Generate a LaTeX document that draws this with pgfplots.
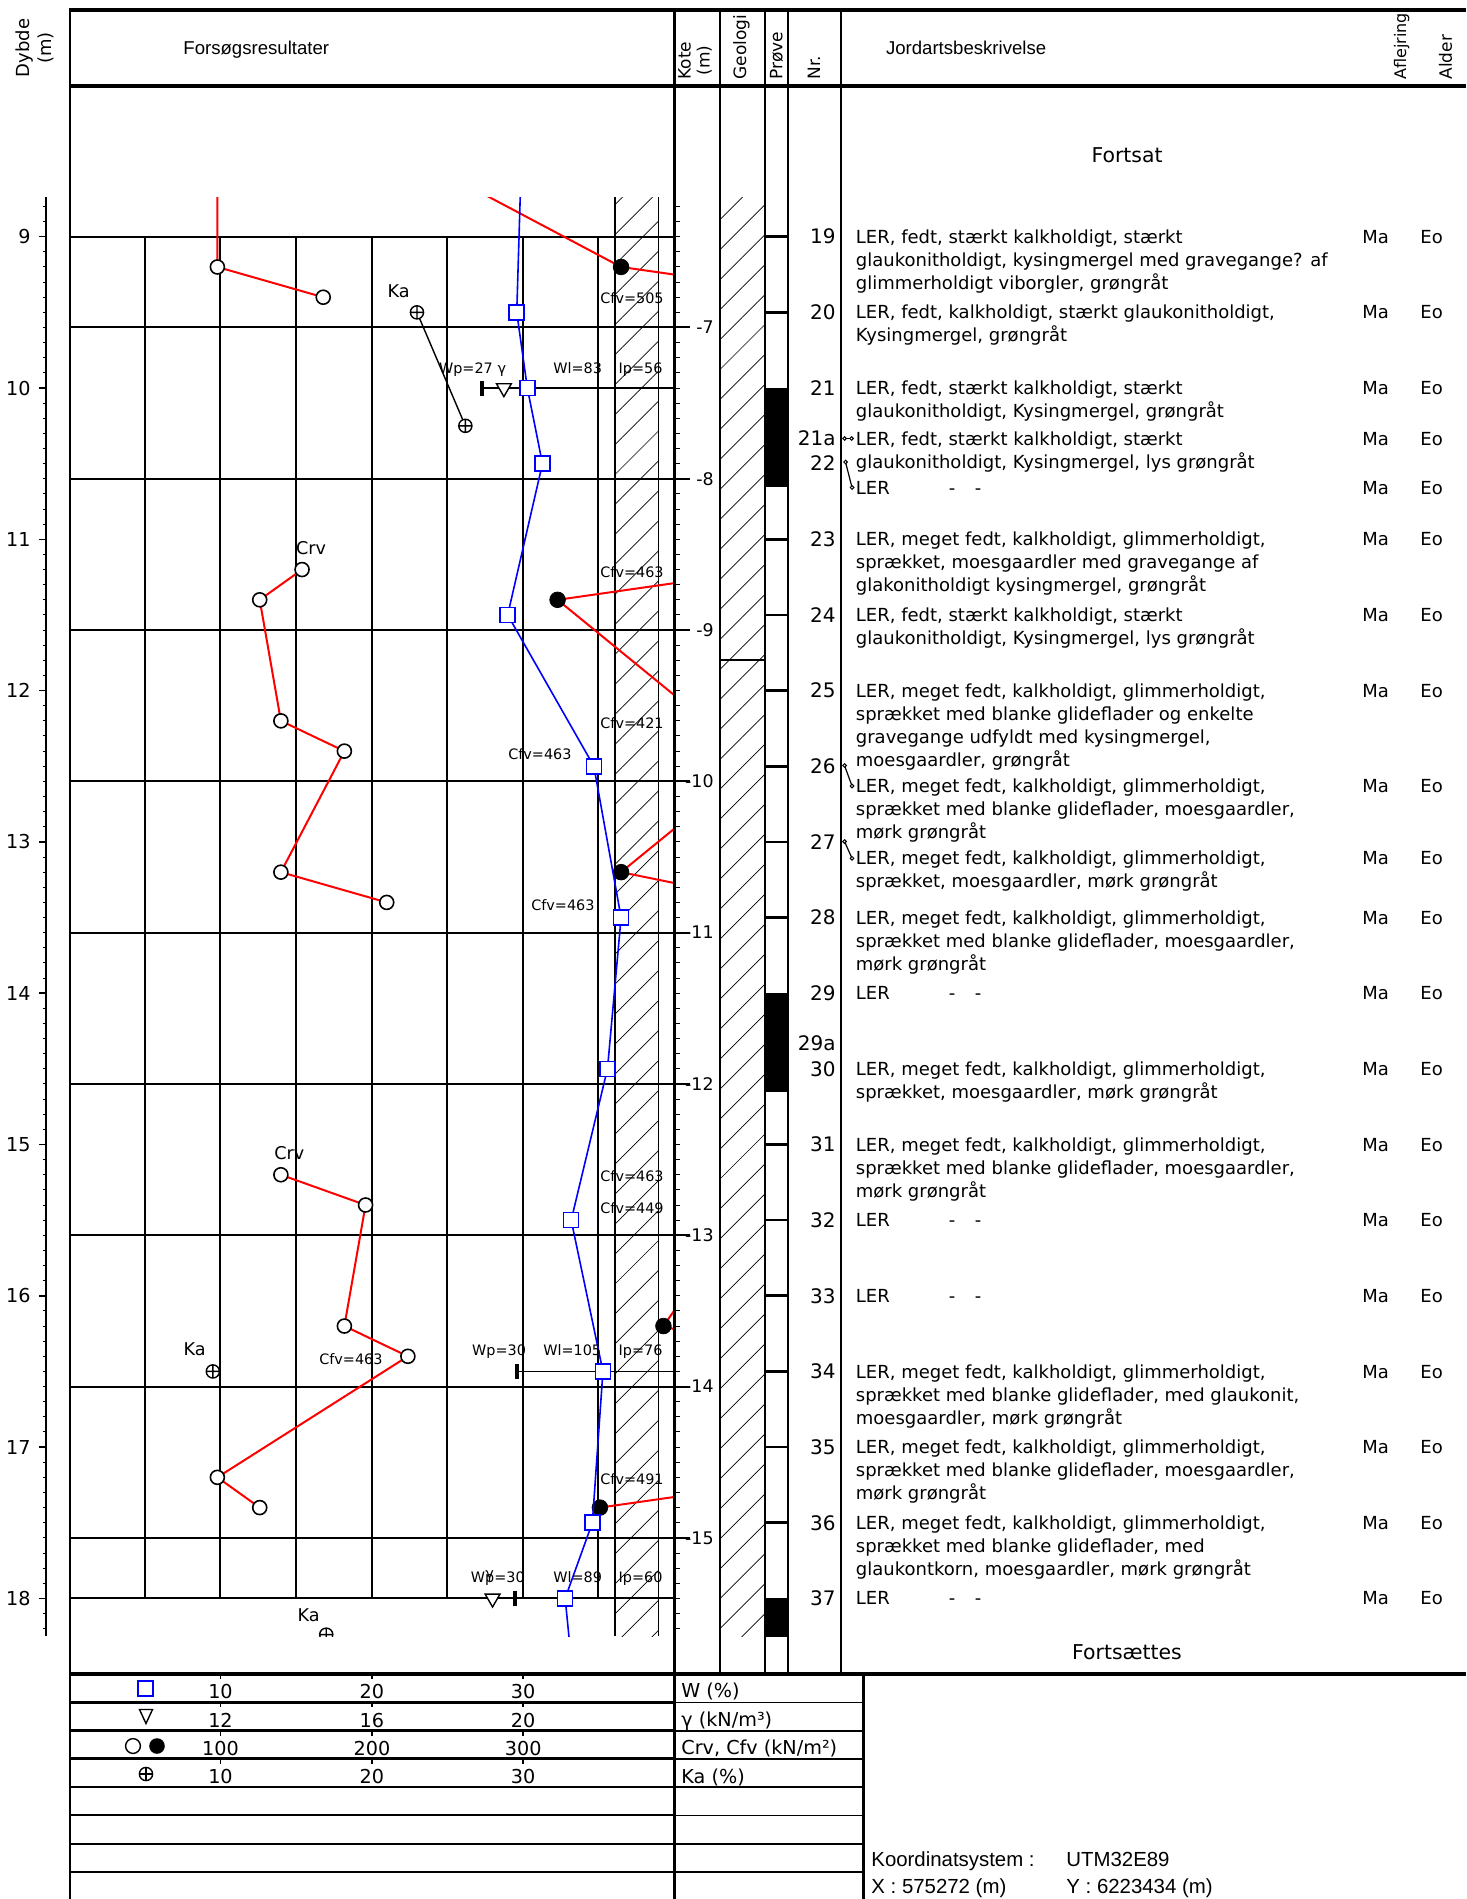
\documentclass[border=0pt]{standalone}
\usepackage{fontspec}
\setmainfont{DejaVu Sans}
\newfontfamily\arialf{Liberation Sans}
\usepackage{pgfplots}
\pgfplotsset{compat=1.18}
\usepackage{pgfplotstable}
\usetikzlibrary{patterns.meta}

\definecolor{cred}{RGB}{255,0,0}
\definecolor{cblue}{RGB}{0,0,255}

\newcommand\fD{\fontsize{9}{11}\selectfont}
\newcommand\fN{\fontsize{10}{12}\selectfont}
\newcommand\fL{\fontsize{7.2}{9}\selectfont}
\newcommand\fK{\fontsize{8.8}{10}\selectfont}
\newcommand\fDepth{\fontsize{9.6}{11}\selectfont}
\newcommand\fKote{\fontsize{8.7}{10}\selectfont}
\newcommand\fH{\fontsize{8.5}{9.5}\selectfont}
\newcommand\fLeg{\fontsize{9.6}{11}\selectfont}
\newcommand\fA{\arialf\fontsize{9.3}{11}\selectfont}
\newcommand\fF{\fontsize{10.2}{12}\selectfont}
\newcommand\fC{\arialf\fontsize{10.2}{12}\selectfont}

\tikzset{hatch/.style={pattern={Lines[angle=45,distance=10.6pt,line width=0.35pt]}}}

% ---------- data ----------
\pgfplotstableread{
v d
98 8.3
98 9.2
168 9.4
}\crvA
\pgfplotstableread{
v d
154 11.2
126 11.4
140 12.2
182 12.4
140 13.2
210 13.4
}\crvB
\pgfplotstableread{
v d
140 15.2
196 15.4
182 16.2
224 16.4
98 17.2
126 17.4
}\crvC
\pgfplotstableread{
v d
214 8.4
365 9.2
505 9.4
463 11.2
323 11.4
421 12.2
463 12.4
365 13.2
463 13.4
463 15.2
449 15.4
393 16.2
463 16.4
491 17.2
351 17.4
}\cfv
\pgfplotstableread{
v d
365 9.2
323 11.4
365 13.2
393 16.2
351 17.4
}\cfvpts
\pgfplotstableread{
w d
29.9 8.5
29.6 9.5
30.3 10.0
31.3 10.5
29.0 11.5
34.7 12.5
36.5 13.5
35.6 14.5
33.2 15.5
35.3 16.5
34.6 17.5
32.8 18.0
33.3 18.5
}\wtab
\pgfplotstableread{
k d
23.0 9.5
26.2 10.25
}\kaA
\pgfplotstableread{
k d
9.5 16.5
17.0 18.24
}\kaB
\pgfplotstableread{
g d
19.5 10.0
19.2 18.0
}\gam
\pgfplotstableread{
wp d
27.3 10.0
29.6 16.5
29.5 18.0
}\wp

\newcommand\DL[2]{\node[anchor=base west,inner sep=0pt,font=\fD] at (855.5,{#1+6.5}) {#2};}
\newcommand\NR[2]{\node[anchor=base east,inner sep=0pt,font=\fN] at (836,{#1+7.2}) {#2};}
\newcommand\ME[1]{\node[anchor=base west,inner sep=0pt,font=\fD] at (1362,{#1+6.5}) {Ma};\node[anchor=base west,inner sep=0pt,font=\fD] at (1420,{#1+6.5}) {Eo};}
\newcommand\LER[1]{\DL{#1}{LER}\node[anchor=base,inner sep=0pt,font=\fD] at (952,{#1+6.5}) {-};\node[anchor=base,inner sep=0pt,font=\fD] at (978,{#1+6.5}) {-};}
\newcommand\CON[4]{\draw[line width=0.6pt] (#1,#2) -- (#3,#4);\draw[line width=0.5pt,fill=white] (#1,#2) circle[radius=0.9pt];\draw[line width=0.5pt,fill=white] (#3,#4) circle[radius=0.9pt];}

\begin{document}
\begin{tikzpicture}
\useasboundingbox (0,0) rectangle (733pt,-949.5pt);

\begin{scope}[x=0.5pt,y=-0.5pt]
 % geologi hatch
 \fill[hatch] (720,197.36) rectangle (765,1636.2);
 \draw[line width=1pt] (720,660.3) -- (765,660.3);
\end{scope}

% ---------- main results axis ----------
\begin{axis}[at={(34.6pt,-98.68pt)},anchor=north west,scale only axis,
  width=302.4pt,height=719.4pt,xmin=0,xmax=40,ymin=8.74,ymax=18.25,
  y dir=reverse,axis lines=none,clip=true,clip marker paths=true]
  \fill[hatch] (axis cs:36.1,8.74) rectangle (axis cs:39,18.25);
  \draw[line width=0.6pt] (axis cs:36.1,8.74) -- (axis cs:36.1,18.25);
  \draw[line width=0.6pt] (axis cs:39,8.74) -- (axis cs:39,18.25);
  \pgfplotsinvokeforeach{5,10,15,20,25,30,35}{\draw[line width=1pt] (axis cs:#1,9) -- (axis cs:#1,18);}
  \pgfplotsinvokeforeach{9,9.6,10.6,11.6,12.6,13.6,14.6,15.6,16.6,17.6,18}{\draw[line width=1pt] (axis cs:0,#1) -- (axis cs:40,#1);}

  % Wp - Wl lines
  \addplot[black,line width=0.7pt] coordinates {(27.3,10) (83,10)};
  \addplot[black,line width=0.7pt] coordinates {(29.6,16.5) (105,16.5)};
  \addplot[black,line width=0.7pt] coordinates {(29.5,18) (89,18)};
  \addplot[only marks,mark=|,mark size=3.75pt,mark options={line width=2pt,black}] table[x=wp,y=d]{\wp};

  % Cfv
  \addplot[cred,line width=1pt] table[x expr=\thisrow{v}/10,y=d]{\cfv};
  \addplot[only marks,mark=*,mark size=3.9pt,mark options={black}] table[x expr=\thisrow{v}/10,y=d]{\cfvpts};

  % Crv
  \addplot[cred,line width=1pt,mark=*,mark size=3.5pt,mark options={fill=white,draw=black,line width=0.8pt}] table[x expr=\thisrow{v}/10,y=d]{\crvA};
  \addplot[cred,line width=1pt,mark=*,mark size=3.5pt,mark options={fill=white,draw=black,line width=0.8pt}] table[x expr=\thisrow{v}/10,y=d]{\crvB};
  \addplot[cred,line width=1pt,mark=*,mark size=3.5pt,mark options={fill=white,draw=black,line width=0.8pt}] table[x expr=\thisrow{v}/10,y=d]{\crvC};

  % Ka
  \addplot[black,line width=0.7pt,mark=oplus*,mark size=3.3pt,mark options={fill=white,draw=black,line width=0.7pt}] table[x=k,y=d]{\kaA};
  \addplot[only marks,mark=oplus*,mark size=3.3pt,mark options={fill=white,draw=black,line width=0.7pt}] table[x=k,y=d]{\kaB};

  % gamma
  \addplot[only marks,mark=triangle*,mark size=4.3pt,mark options={rotate=180,draw=black,fill=white,line width=0.7pt}] table[x expr=(\thisrow{g}-8)*2.5,y=d]{\gam};

  % W
  \addplot[cblue,line width=0.8pt,mark=square*,mark size=3.75pt,mark options={fill=white,draw=cblue,line width=0.8pt}] table[x=w,y=d]{\wtab};

  % labels
  \node[font=\fL,anchor=base east,inner sep=0pt] at (axis cs:39.34,9.44) {Cfv=505};
  \node[font=\fL,anchor=base east,inner sep=0pt] at (axis cs:39.34,11.25) {Cfv=463};
  \node[font=\fL,anchor=base east,inner sep=0pt] at (axis cs:39.34,12.25) {Cfv=421};
  \node[font=\fL,anchor=base east,inner sep=0pt] at (axis cs:33.25,12.455) {Cfv=463};
  \node[font=\fL,anchor=base east,inner sep=0pt] at (axis cs:34.77,13.452) {Cfv=463};
  \node[font=\fL,anchor=base east,inner sep=0pt] at (axis cs:39.34,15.245) {Cfv=463};
  \node[font=\fL,anchor=base east,inner sep=0pt] at (axis cs:39.34,15.455) {Cfv=449};
  \node[font=\fL,anchor=base east,inner sep=0pt] at (axis cs:20.75,16.455) {Cfv=463};
  \node[font=\fL,anchor=base east,inner sep=0pt] at (axis cs:39.34,17.245) {Cfv=491};

  \node[font=\fL,anchor=base,inner sep=0pt] at (axis cs:26.24,9.901) {Wp=27};
  \node[font=\fL,anchor=base,inner sep=0pt] at (axis cs:28.62,9.901) {γ};
  \node[font=\fL,anchor=base,inner sep=0pt] at (axis cs:33.63,9.901) {Wl=83};
  \node[font=\fL,anchor=base,inner sep=0pt] at (axis cs:37.79,9.901) {Ip=56};
  \node[font=\fL,anchor=base,inner sep=0pt] at (axis cs:28.43,16.395) {Wp=30};
  \node[font=\fL,anchor=base,inner sep=0pt] at (axis cs:33.27,16.395) {Wl=105};
  \node[font=\fL,anchor=base,inner sep=0pt] at (axis cs:37.79,16.395) {Ip=76};
  \node[font=\fL,anchor=base,inner sep=0pt] at (axis cs:28.35,17.898) {Wp=30};
  \node[font=\fL,anchor=base,inner sep=0pt] at (axis cs:27.81,17.87) {γ};
  \node[font=\fL,anchor=base,inner sep=0pt] at (axis cs:33.63,17.898) {Wl=89};
  \node[font=\fL,anchor=base,inner sep=0pt] at (axis cs:37.79,17.898) {Ip=60};

  \node[font=\fK,anchor=base,inner sep=0pt] at (axis cs:21.79,9.40) {Ka};
  \node[font=\fK,anchor=base,inner sep=0pt] at (axis cs:8.29,16.396) {Ka};
  \node[font=\fK,anchor=base,inner sep=0pt] at (axis cs:15.83,18.15) {Ka};
  \node[font=\fK,anchor=base,inner sep=0pt] at (axis cs:16.0,11.10) {Crv};
  \node[font=\fK,anchor=base,inner sep=0pt] at (axis cs:14.56,15.10) {Crv};
\end{axis}

% ---------- sample (Prøve) column ----------
\begin{axis}[at={(382.5pt,-98.68pt)},anchor=north west,scale only axis,
  width=11.5pt,height=719.4pt,xmin=0,xmax=1,ymin=8.74,ymax=18.25,
  y dir=reverse,axis lines=none,clip=true]
  \addplot[fill=black,draw=black] coordinates {(0,10) (1,10) (1,10.65) (0,10.65) (0,10)};
  \addplot[fill=black,draw=black] coordinates {(0,14) (1,14) (1,14.65) (0,14.65) (0,14)};
  \addplot[fill=black,draw=black] coordinates {(0,18) (1,18) (1,18.3) (0,18.3) (0,18)};
  \pgfplotsinvokeforeach{9,9.5,11,11.5,12,12.5,13,13.5,15,15.5,16,16.5,17,17.5}{\addplot[black,line width=1.3pt] coordinates {(0,#1) (1,#1)};}
\end{axis}

\begin{scope}[x=0.5pt,y=-0.5pt]
 % frame
 \draw[line width=1.7pt] (69,10) -- (1466,10);
 \draw[line width=1.8pt] (69,86) -- (1466,86);
 \draw[line width=1.1pt] (70,9) -- (70,1899);
 \draw[line width=1.4pt] (674.5,9) -- (674.5,1899);
 \foreach \x in {720,765,788} \draw[line width=1pt] (\x,10) -- (\x,1674);
 \draw[line width=1.1pt] (841,10) -- (841,1674);
 \draw[line width=1.6pt] (69,1674) -- (1466,1674);
 \foreach \y in {1702.3,1730.7,1758.7} \draw[line width=1.3pt] (70,\y) -- (674.5,\y);
 \foreach \y in {1787,1815.3,1843.7,1872} \draw[line width=0.9pt] (70,\y) -- (674.5,\y);
 \foreach \y in {1702.3,1730.7,1758.7,1787,1815.3,1843.7,1872} \draw[line width=0.8pt] (674.5,\y) -- (863.5,\y);
 \draw[line width=1.1pt] (863.5,1674) -- (863.5,1899);

 % depth axis
 \draw[line width=0.7pt] (46,197.36) -- (46,1636.2);
 \foreach \i in {88,...,182} {
   \pgfmathsetmacro\yy{236.7+(\i-90)*15.13}
   \draw[line width=0.5pt] (42.5,\yy) -- (46,\yy);
   \draw[line width=0.5pt] (674.5,\yy) -- (679.5,\yy);
 }
 \foreach \d in {9,...,18} {
   \pgfmathsetmacro\yy{236.7+(\d-9)*151.3}
   \draw[line width=0.8pt] (39,\yy) -- (46,\yy);
   \node[anchor=base east,font=\fDepth,inner sep=0pt] at (31,\yy+7) {\d};
 }
 % kote axis
 \foreach \k in {7,...,15} {
   \pgfmathsetmacro\yy{236.7+(\k-6.4)*151.3}
   \draw[line width=1pt] (674.5,\yy) -- (690,\yy);
   \node[anchor=base east,font=\fKote,inner sep=0pt] at (714,\yy+6.3) {-\k};
 }

 % header
 \node[rotate=90,font=\fontsize{9}{11}\selectfont,align=center,inner sep=0pt] at (35,48) {Dybde\\(m)};
 \node[anchor=base west,font=\fA,inner sep=0pt] at (183,55) {Forsøgsresultater};
 \node[rotate=90,anchor=west,font=\fH,align=center,inner sep=0pt] at (695,80) {Kote\\(m)};
 \node[rotate=90,anchor=west,font=\fH,inner sep=0pt] at (741.5,80) {Geologi};
 \node[rotate=90,anchor=west,font=\fH,inner sep=0pt] at (776.6,80) {Prøve};
 \node[rotate=90,anchor=west,font=\fH,inner sep=0pt] at (814,80) {Nr.};
 \node[anchor=base west,font=\fA,inner sep=0pt] at (885.6,55) {Jordartsbeskrivelse};
 \node[rotate=90,anchor=west,font=\fontsize{8}{9}\selectfont,inner sep=0pt] at (1401.8,80) {Aflejring};
 \node[rotate=90,anchor=west,font=\fH,inner sep=0pt] at (1445.4,80) {Alder};
 \node[font=\fF,inner sep=0pt] at (1127,155) {Fortsat};
 \node[font=\fF,inner sep=0pt] at (1127,1652) {Fortsættes};

 % descriptions
 \NR{236.7}{19}\ME{236.7}
 \DL{236.7}{LER, fedt, stærkt kalkholdigt, stærkt}
 \DL{259.7}{glaukonitholdigt, kysingmergel med gravegange? af}
 \DL{282.7}{glimmerholdigt viborgler, grøngråt}
 \NR{312.4}{20}\ME{312.4}
 \DL{312.4}{LER, fedt, kalkholdigt, stærkt glaukonitholdigt,}
 \DL{335.4}{Kysingmergel, grøngråt}
 \NR{388}{21}\ME{388}
 \DL{388}{LER, fedt, stærkt kalkholdigt, stærkt}
 \DL{411}{glaukonitholdigt, Kysingmergel, grøngråt}
 \NR{438.5}{21a}\ME{438.5}
 \DL{438.5}{LER, fedt, stærkt kalkholdigt, stærkt}
 \DL{461.5}{glaukonitholdigt, Kysingmergel, lys grøngråt}
 \CON{844.5}{438.5}{851.5}{438.5}
 \NR{463.5}{22}\ME{487.5}
 \LER{487.5}
 \CON{845.5}{462}{852}{487.5}
 \NR{539.3}{23}\ME{539.3}
 \DL{539.3}{LER, meget fedt, kalkholdigt, glimmerholdigt,}
 \DL{562.3}{sprækket, moesgaardler med gravegange af}
 \DL{585.3}{glakonitholdigt kysingmergel, grøngråt}
 \NR{615}{24}\ME{615}
 \DL{615}{LER, fedt, stærkt kalkholdigt, stærkt}
 \DL{638}{glaukonitholdigt, Kysingmergel, lys grøngråt}
 \NR{690.6}{25}\ME{690.6}
 \DL{690.6}{LER, meget fedt, kalkholdigt, glimmerholdigt,}
 \DL{713.6}{sprækket med blanke glideflader og enkelte}
 \DL{736.6}{gravegange udfyldt med kysingmergel,}
 \DL{759.6}{moesgaardler, grøngråt}
 \NR{766.3}{26}\ME{786}
 \DL{786}{LER, meget fedt, kalkholdigt, glimmerholdigt,}
 \DL{809}{sprækket med blanke glideflader, moesgaardler,}
 \DL{832}{mørk grøngråt}
 \CON{844.5}{765.5}{852}{786}
 \NR{841.9}{27}\ME{858.3}
 \DL{858.3}{LER, meget fedt, kalkholdigt, glimmerholdigt,}
 \DL{881.3}{sprækket, moesgaardler, mørk grøngråt}
 \CON{844.5}{841.5}{852}{858.3}
 \NR{917.6}{28}\ME{917.6}
 \DL{917.6}{LER, meget fedt, kalkholdigt, glimmerholdigt,}
 \DL{940.6}{sprækket med blanke glideflader, moesgaardler,}
 \DL{963.6}{mørk grøngråt}
 \NR{993.2}{29}\ME{993.2}\LER{993.2}
 \NR{1043}{29a}
 \NR{1068.9}{30}\ME{1068.9}
 \DL{1068.9}{LER, meget fedt, kalkholdigt, glimmerholdigt,}
 \DL{1091.9}{sprækket, moesgaardler, mørk grøngråt}
 \NR{1144.5}{31}\ME{1144.5}
 \DL{1144.5}{LER, meget fedt, kalkholdigt, glimmerholdigt,}
 \DL{1167.5}{sprækket med blanke glideflader, moesgaardler,}
 \DL{1190.5}{mørk grøngråt}
 \NR{1220.2}{32}\ME{1220.2}\LER{1220.2}
 \NR{1295.8}{33}\ME{1295.8}\LER{1295.8}
 \NR{1371.5}{34}\ME{1371.5}
 \DL{1371.5}{LER, meget fedt, kalkholdigt, glimmerholdigt,}
 \DL{1394.5}{sprækket med blanke glideflader, med glaukonit,}
 \DL{1417.5}{moesgaardler, mørk grøngråt}
 \NR{1447.1}{35}\ME{1447.1}
 \DL{1447.1}{LER, meget fedt, kalkholdigt, glimmerholdigt,}
 \DL{1470.1}{sprækket med blanke glideflader, moesgaardler,}
 \DL{1493.1}{mørk grøngråt}
 \NR{1522.8}{36}\ME{1522.8}
 \DL{1522.8}{LER, meget fedt, kalkholdigt, glimmerholdigt,}
 \DL{1545.8}{sprækket med blanke glideflader, med}
 \DL{1568.8}{glaukontkorn, moesgaardler, mørk grøngråt}
 \NR{1598.4}{37}\ME{1598.4}\LER{1598.4}

 % bottom legend
 \foreach \yt in {1674,1702.3,1730.7,1758.7} \foreach \x in {220.5,371.9,523.2} \draw[line width=0.8pt] (\x,\yt) -- (\x,\yt+5);
 \draw[cblue,line width=0.8pt,fill=white] (138,1681) rectangle (153,1696);
 \draw[line width=0.7pt] (139.5,1709.5) -- (152.5,1709.5) -- (146,1723.5) -- cycle;
 \draw[line width=0.7pt] (133,1746) circle[radius=3.7pt];
 \fill (157,1746) circle[radius=3.9pt];
 \draw[line width=0.7pt] (146,1774) circle[radius=3.3pt];
 \draw[line width=0.6pt] (140,1774) -- (152,1774) (146,1768) -- (146,1780);
 \foreach \r/\yb/\a/\b/\c in {1/1698.7/10/20/30, 2/1727/12/16/20, 3/1755.7/100/200/300, 4/1783/10/20/30} {
   \node[anchor=base,font=\fLeg,inner sep=0pt] at (220.5,\yb) {\a};
   \node[anchor=base,font=\fLeg,inner sep=0pt] at (371.9,\yb) {\b};
   \node[anchor=base,font=\fLeg,inner sep=0pt] at (523.2,\yb) {\c};
 }
 \node[anchor=base west,font=\fLeg,inner sep=0pt] at (681,1697) {W (\%)};
 \node[anchor=base west,font=\fLeg,inner sep=0pt] at (681,1726) {γ (kN/m³)};
 \node[anchor=base west,font=\fLeg,inner sep=0pt] at (681,1754) {Crv, Cfv (kN/m²)};
 \node[anchor=base west,font=\fLeg,inner sep=0pt] at (681,1783) {Ka (\%)};

 \node[anchor=base west,font=\fC,inner sep=0pt] at (871,1866) {Koordinatsystem :};
 \node[anchor=base west,font=\fC,inner sep=0pt] at (1066,1866) {UTM32E89};
 \node[anchor=base west,font=\fC,inner sep=0pt] at (871,1893) {X : 575272 (m)};
 \node[anchor=base west,font=\fC,inner sep=0pt] at (1066,1893) {Y : 6223434 (m)};
\end{scope}
\end{tikzpicture}
\end{document}
